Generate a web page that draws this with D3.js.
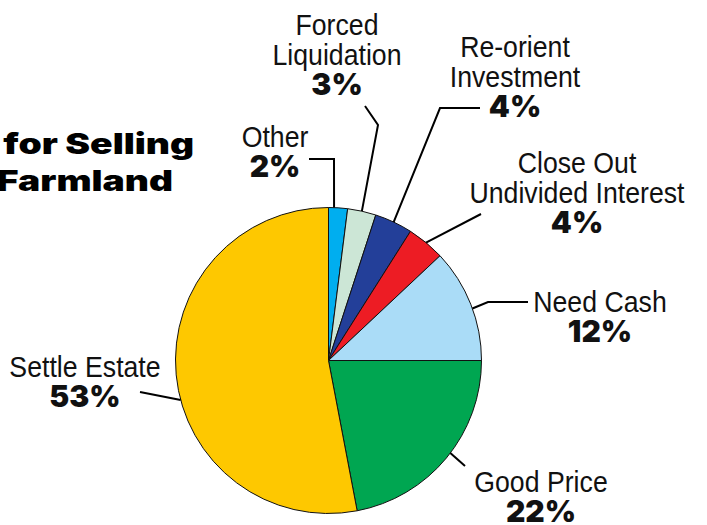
<!DOCTYPE html>
<html>
<head>
<meta charset="utf-8">
<script src="https://cdn.jsdelivr.net/npm/d3@7"></script>
<style>
  body { margin: 0; background: #fff; }
  svg { display: block; }
  .name { font-family: "Liberation Sans", Arial, sans-serif; font-size: 29px; fill: #111; }
  .pct { font-family: Inter, Roboto, "Liberation Sans", sans-serif; font-weight: 900; font-size: 30px; fill: #111; }
  .title { font-family: Inter, Roboto, "Liberation Sans", sans-serif; font-weight: 900; font-size: 28px; fill: #000; }
  .leader { fill: none; stroke: #000; stroke-width: 2; }
</style>
</head>
<body>
<svg width="707" height="525"></svg>
<script>
const categories = ["Other", "Forced Liquidation", "Re-orient Investment", "Close Out Undivided Interest", "Need Cash", "Good Price", "Settle Estate"];
const values = [2, 3, 4, 4, 12, 22, 53];
const colors = ["#00aeef", "#cce6d6", "#233f99", "#ed1c24", "#aadcf7", "#00a651", "#fec800"];
const nameLines = [["Other"], ["Forced", "Liquidation"], ["Re-orient", "Investment"], ["Close Out", "Undivided Interest"], ["Need Cash"], ["Good Price"], ["Settle Estate"]];
const titleLines = ["Reasons for Selling", "Farmland"];

// label placement: centre x, first baseline, leader points, where leader meets slice (0..1 of slice)
const labelLayout = [
  { x: 275, y: 147, pts: [[309, 159], [334, 159]], at: 0.29 },
  { x: 337, y: 35, pts: [[365, 106], [378, 125]], at: 0.5 },
  { x: 515, y: 57, pts: [[480, 108], [440, 108]], at: 0.5 },
  { x: 577, y: 173, pts: [[481, 214]], at: 0.5 },
  { x: 600, y: 312, pts: [[528, 302], [488, 302]], at: 0.54 },
  { x: 541, y: 492, pts: [[465, 466]], at: 0.47 },
  { x: 85, y: 377, pts: [[140, 392]], at: 0.45 }
];

const cx = 328.5, cy = 360.5, radius = 153, lineH = 30;
const narrow = 0.92, wide = 1.33;
const svg = d3.select("svg");

const slices = d3.pie().sort(null).value(d => d)(values);
const arc = d3.arc().innerRadius(0).outerRadius(radius);

const pieG = svg.append("g").attr("transform", `translate(${cx},${cy})`);
pieG.selectAll("path")
  .data(slices)
  .enter()
  .append("path")
  .attr("d", arc)
  .attr("fill", (d, i) => colors[i])
  .attr("stroke", "#111")
  .attr("stroke-width", 1);

// leader lines
const line = d3.line();
svg.selectAll("path.leader")
  .data(slices)
  .enter()
  .append("path")
  .attr("class", "leader")
  .attr("d", (d, i) => {
    const lay = labelLayout[i];
    const a = d.startAngle + lay.at * (d.endAngle - d.startAngle);
    const end = [cx + radius * Math.sin(a), cy - radius * Math.cos(a)];
    return line(lay.pts.concat([end]));
  });

// labels
const labels = svg.selectAll("g.label")
  .data(slices)
  .enter()
  .append("g")
  .attr("class", "label")
  .attr("transform", (d, i) => `translate(${labelLayout[i].x},${labelLayout[i].y})`);

labels.each(function (d, i) {
  const g = d3.select(this);
  nameLines[i].forEach((t, j) => {
    g.append("text")
      .attr("class", "name")
      .attr("text-anchor", "middle")
      .attr("transform", `translate(0,${j * lineH}) scale(${narrow},1)`)
      .text(t);
  });
  g.append("text")
    .attr("class", "pct")
    .attr("text-anchor", "middle")
    .attr("y", nameLines[i].length * lineH)
    .text(d.data + "%");
});

// title, clipped at left edge as in the original
svg.append("text").attr("class", "title").attr("text-anchor", "end")
  .attr("transform", `translate(194,154) scale(${wide},1)`).text(titleLines[0]);
svg.append("text").attr("class", "title").attr("text-anchor", "end")
  .attr("transform", `translate(173,191) scale(${wide},1)`).text(titleLines[1]);
</script>
</body>
</html>
